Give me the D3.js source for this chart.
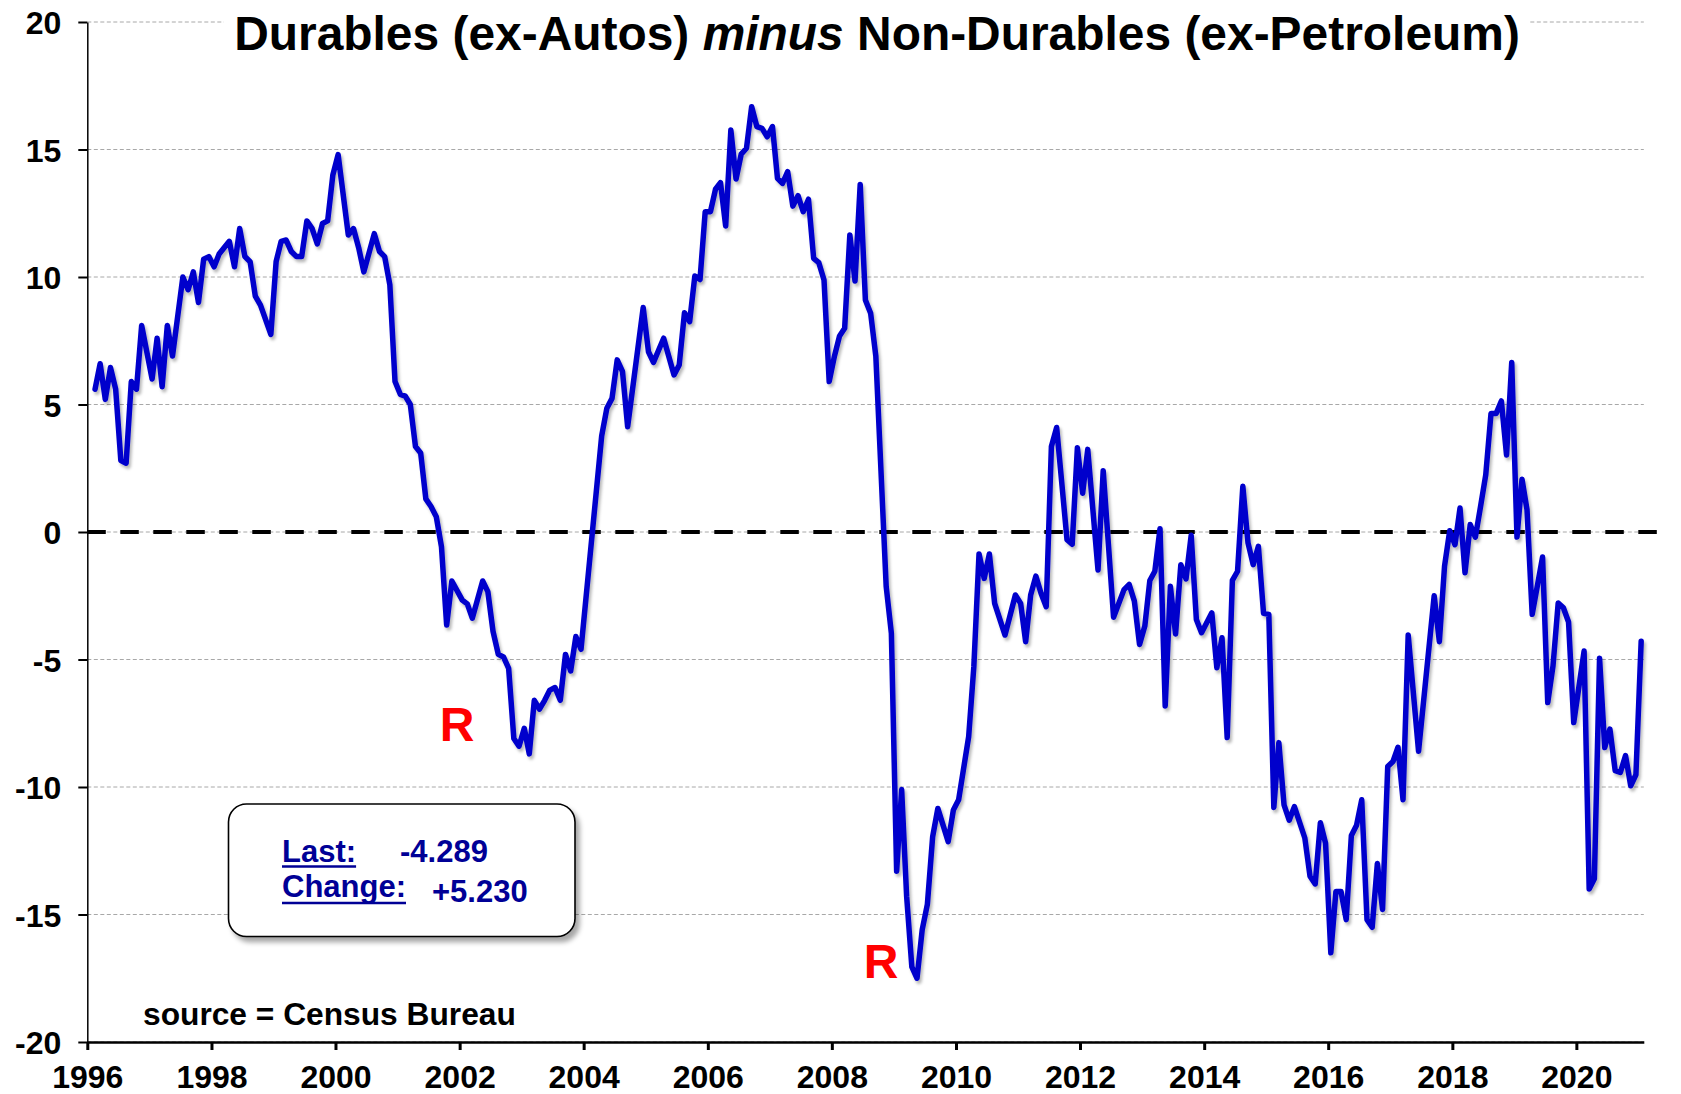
<!DOCTYPE html>
<html>
<head>
<meta charset="utf-8">
<script src="https://cdn.jsdelivr.net/npm/d3@7"></script>
<style>
  html, body { margin: 0; padding: 0; background: #fff; }
  svg { display: block; }
  text { font-family: "Liberation Sans", Arial, Helvetica, sans-serif; font-weight: bold; }
</style>
</head>
<body>
<svg id="chart" width="1681" height="1094"></svg>
<script>
// ---------------- DATA ----------------
// Month offsets from January 1996 (0 = Jan 1996) of the visible line vertices
const START_MONTH = "1996-01";
const monthIdx = [
  1,2,3,4,5,6,7,8,9,10,12,13,14,15,16,18,19,20,21,22,23,24,25,27,28,29,30,31,32,33,35,36,37,38,39,40,41,42,43,44,45,46,47,48,
  50,51,52,53,55,56,57,58,59,60,61,62,63,64,65,66,67,68,69,70,72,73,74,76,77,78,79,80,81,82,83,84,85,86,87,88,89,90,91,92,93,94,95,
  99,100,101,102,103,104,107,108,109,111,113,114,115,116,117,118,119,120,121,122,123,124,125,126,127,128,129,130,131,132,133,134,135,
  136,137,138,139,140,141,142,143,144,145,146,147,148,149,150,151,152,154,155,156,157,158,159,160,161,162,163,164,166,167,168,170,171,
  172,173,174,175,177,179,180,181,182,183,184,185,186,187,189,190,191,192,193,195,196,198,200,201,202,203,204,205,206,207,208,209,210,
  211,212,213,214,215,217,218,219,220,221,222,223,224,225,226,227,228,229,230,231,232,233,235,236,237,238,239,240,241,242,243,244,245,
  246,247,248,249,250,251,252,253,254,255,257,260,261,262,263,264,265,266,267,268,269,270,271,272,273,274,275,276,277,278,279,281,282,
  283,284,285,286,287,289,290,291,292,293,294,295,296,297,298,299,300
];
const values = [
  5.6,6.6,5.2,6.45,5.6,2.8,2.7,5.9,5.6,8.1,6.0,7.6,5.7,8.1,6.9,10.0,9.5,10.2,9.0,10.7,10.8,10.4,10.9,11.4,10.4,11.9,10.8,10.6,9.25,8.9,7.75,10.6,11.4,11.45,11.0,10.8,10.8,12.2,11.9,11.3,12.1,12.2,14.0,14.8,
  11.65,11.9,11.15,10.2,11.7,11.0,10.8,9.7,5.9,5.4,5.33,5.0,3.35,3.1,1.3,1.0,0.6,-0.58,-3.65,-1.92,-2.67,-2.82,-3.38,-1.92,-2.34,-3.9,-4.8,-4.9,-5.35,-8.1,-8.4,-7.7,-8.7,-6.6,-6.95,-6.6,-6.2,-6.1,-6.6,-4.8,-5.45,-4.1,-4.6,
  3.76,4.85,5.24,6.75,6.3,4.13,8.8,7.07,6.65,7.6,6.16,6.55,8.6,8.25,10.04,9.9,12.56,12.56,13.44,13.7,12.0,15.76,13.84,14.82,15.05,16.68,15.9,15.83,15.5,15.9,13.87,13.67,14.13,
  12.78,13.19,12.56,13.05,10.73,10.56,9.88,5.9,6.9,7.69,7.99,11.65,9.84,13.63,9.1,8.58,6.9,-2.14,-3.97,-13.3,-10.1,-14.3,-17.05,-17.5,-15.6,-14.6,-11.95,-10.84,-12.14,-10.9,-10.5,-8.03,-5.28,
  -0.86,-1.82,-0.86,-2.8,-4.04,-2.47,-2.8,-4.3,-2.47,-1.73,-2.4,-2.93,3.35,4.1,-0.3,-0.48,3.3,1.52,3.24,-1.49,2.4,-3.34,-2.26,-2.06,-2.71,-4.41,-3.69,-1.9,-1.54,0.13,-6.82,-2.13,-4.0,
  -1.28,-1.84,-0.13,-3.43,-3.95,-3.17,-5.32,-4.15,-8.06,-1.9,-1.54,1.79,-0.43,-1.28,-0.56,-3.19,-3.23,-10.8,-8.26,-10.7,-11.3,-10.77,-12.0,-13.5,-13.8,-11.4,-12.2,-16.5,-14.1,-14.1,-15.2,-11.9,-11.5,
  -10.5,-15.2,-15.5,-13.0,-14.8,-9.2,-9.0,-8.44,-10.5,-4.04,-8.6,-2.5,-4.3,-1.34,0.05,-0.5,0.94,-1.6,0.29,-0.2,1.0,2.24,4.65,4.65,5.14,3.02,6.65,-0.2,2.07,0.87,-3.23,-0.98,-6.69,
  -5.25,-2.78,-2.97,-3.53,-7.47,-4.67,-14.0,-13.6,-4.95,-8.45,-7.73,-9.36,-9.43,-8.77,-9.95,-9.519,-4.289
];
const yTicks = [-20, -15, -10, -5, 0, 5, 10, 15, 20];
const xTickYears = [1996, 1998, 2000, 2002, 2004, 2006, 2008, 2010, 2012, 2014, 2016, 2018, 2020];
const titleParts = ["Durables (ex-Autos) ", "minus", " Non-Durables (ex-Petroleum)"];
const boxLabels = ["Last:", "Change:"];
const boxValues = ["-4.289", "+5.230"];
const recessionMarks = [
  { label: "R", month: 71, value: -8.2 },
  { label: "R", month: 153, value: -17.5 }
];
const sourceText = "source = Census Bureau";

// ---------------- CHART ----------------
const svg = d3.select("#chart");
const parseMonth = d3.timeParse("%Y-%m");
const start = parseMonth(START_MONTH);
const end = d3.timeMonth.offset(start, 301);

const x = d3.scaleTime().domain([start, end]).range([87.3, 1643.8]);
const y = d3.scaleLinear().domain([-20, 20]).range([1042, 22]);
const xMid = m => (x(d3.timeMonth.offset(start, m)) + x(d3.timeMonth.offset(start, m + 1))) / 2;

const defs = svg.append("defs");
const sh = defs.append("filter").attr("id", "lineShadow").attr("x", "-5%").attr("y", "-5%").attr("width", "110%").attr("height", "110%");
sh.append("feDropShadow").attr("dx", 2).attr("dy", 3).attr("stdDeviation", 1.5).attr("flood-color", "#000").attr("flood-opacity", 0.28);
const bsh = defs.append("filter").attr("id", "boxShadow").attr("x", "-10%").attr("y", "-10%").attr("width", "130%").attr("height", "130%");
bsh.append("feDropShadow").attr("dx", 4).attr("dy", 5).attr("stdDeviation", 2.5).attr("flood-color", "#000").attr("flood-opacity", 0.35);

// Gridlines
svg.append("g").selectAll("line").data(yTicks).join("line")
  .attr("x1", x(start)).attr("x2", x(end))
  .attr("y1", d => y(d)).attr("y2", d => y(d))
  .attr("stroke", "#a8a8a8").attr("stroke-width", 1).attr("stroke-dasharray", "4,2.5");

// Zero reference line
svg.append("line")
  .attr("x1", x(start)).attr("x2", 1669)
  .attr("y1", y(0)).attr("y2", y(0))
  .attr("stroke", "#000").attr("stroke-width", 4).attr("stroke-dasharray", "18.5,14.5");

// Title (white background hides the top gridline)
const titleG = svg.append("g");
const titleBg = titleG.append("rect").attr("fill", "#fff");
const title = titleG.append("text").attr("x", 877).attr("y", 50).attr("text-anchor", "middle")
  .style("font-size", "48px").attr("fill", "#000");
title.append("tspan").text(titleParts[0]);
title.append("tspan").style("font-style", "italic").text(titleParts[1]);
title.append("tspan").text(titleParts[2]);
{
  const w = title.node().getComputedTextLength();
  title.style("font-size", (48 * 1286 / w) + "px");
  titleBg.attr("x", 224).attr("y", 0).attr("width", 1528 - 224).attr("height", 60);
}

// Axes
const yAxis = d3.axisLeft(y).tickValues(yTicks).tickFormat(d => String(d)).tickSize(9).tickSizeOuter(0).tickPadding(17);
const gy = svg.append("g").attr("transform", `translate(${x(start)},0)`).call(yAxis);
gy.select(".domain").attr("stroke", "#000").attr("stroke-width", 1.5);
gy.selectAll(".tick line").attr("stroke", "#000").attr("stroke-width", 2);
gy.selectAll(".tick text").attr("fill", "#000").attr("dy", "0.36em")
  .style("font-size", "32px").style("font-family", "'Liberation Sans', Arial, sans-serif").style("font-weight", "bold");

const xAxis = d3.axisBottom(x).tickValues(xTickYears.map(yr => new Date(yr, 0, 1)))
  .tickFormat(d3.timeFormat("%Y")).tickSize(8).tickSizeOuter(0);
const gx = svg.append("g").attr("transform", `translate(0,${y(-20)})`).call(xAxis);
gx.select(".domain").attr("stroke", "#000").attr("stroke-width", 2.5);
gx.selectAll(".tick line").attr("stroke", "#000").attr("stroke-width", 3);
gx.selectAll(".tick text").attr("fill", "#000").attr("dy", null).attr("y", 46)
  .style("font-size", "32px").style("font-family", "'Liberation Sans', Arial, sans-serif").style("font-weight", "bold");

// Data line
const series = monthIdx.map((m, i) => ({ m, v: values[i] }));
const line = d3.line().x(d => xMid(d.m)).y(d => y(d.v));
svg.append("path").datum(series)
  .attr("d", line)
  .attr("fill", "none").attr("stroke", "#0000CC").attr("stroke-width", 5.5)
  .attr("stroke-linejoin", "round").attr("stroke-linecap", "round")
  .attr("filter", "url(#lineShadow)");

// Recession markers
svg.append("g").selectAll("text").data(recessionMarks).join("text")
  .attr("x", d => xMid(d.month)).attr("y", d => y(d.value))
  .attr("text-anchor", "middle").attr("fill", "#ff0000").style("font-size", "48px")
  .text(d => d.label);

// Info box
svg.append("rect").attr("x", 228.5).attr("y", 804).attr("width", 346.5).attr("height", 132.5)
  .attr("rx", 18).attr("ry", 18).attr("fill", "#fff").attr("stroke", "#000").attr("stroke-width", 1.6)
  .attr("filter", "url(#boxShadow)");
const navy = "#000096";
const boxRows = [
  { label: boxLabels[0], value: boxValues[0], base: 862, vx: 400, vbase: 862, uy: 866.5 },
  { label: boxLabels[1], value: boxValues[1], base: 897, vx: 432, vbase: 902, uy: 903 }
];
boxRows.forEach(r => {
  const t = svg.append("text").attr("x", 282).attr("y", r.base).attr("fill", navy).style("font-size", "31px").text(r.label);
  const w = t.node().getComputedTextLength();
  svg.append("line").attr("x1", 282).attr("x2", 282 + w).attr("y1", r.uy).attr("y2", r.uy)
    .attr("stroke", navy).attr("stroke-width", 2.5);
  svg.append("text").attr("x", r.vx).attr("y", r.vbase).attr("fill", navy).style("font-size", "31px").text(r.value);
});

// Source note
const src = svg.append("text").attr("x", 143).attr("y", 1025).attr("fill", "#000").style("font-size", "30px").text(sourceText);
{
  const w = src.node().getComputedTextLength();
  src.style("font-size", (30 * 373 / w) + "px");
}
</script>
</body>
</html>
